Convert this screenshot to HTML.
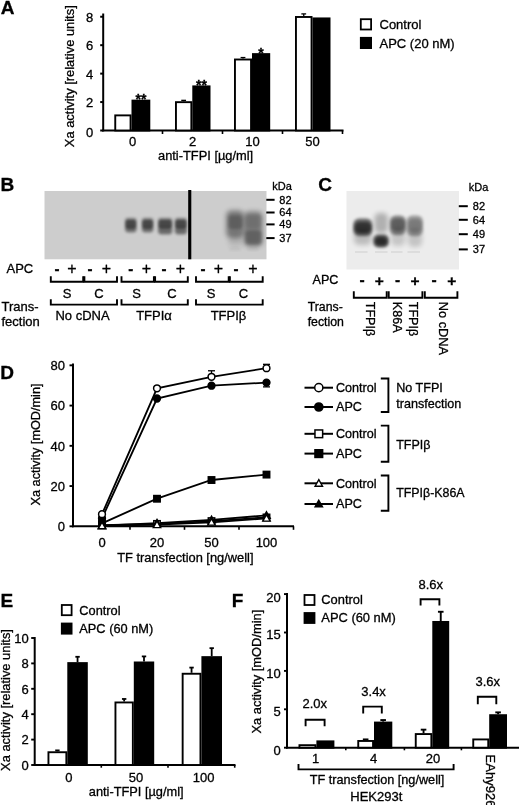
<!DOCTYPE html>
<html lang="en">
<head>
<meta charset="utf-8">
<title>Figure</title>
<style>
html,body{margin:0;padding:0;background:#fff;}
svg{display:block;font-family:"Liberation Sans",Arial,sans-serif;fill:#000;}
text{stroke:#000;stroke-width:0.3px;}
</style>
</head>
<body>
<svg width="520" height="805" viewBox="0 0 520 805">
<defs>
<filter id="b1" x="-50%" y="-50%" width="200%" height="200%"><feGaussianBlur stdDeviation="1.1"/></filter>
<filter id="b2" x="-50%" y="-50%" width="200%" height="200%"><feGaussianBlur stdDeviation="1.6"/></filter>
<filter id="b3" x="-50%" y="-50%" width="200%" height="200%"><feGaussianBlur stdDeviation="2.4"/></filter>
</defs>
<rect x="0" y="0" width="520" height="805" fill="#fff"/>
<!-- Panel A -->
<text x="0.7" y="14.4" font-size="19" text-anchor="start" font-weight="bold">A</text>
<line x1="103.2" y1="13.5" x2="103.2" y2="131.4" stroke="#000" stroke-width="2"/>
<line x1="102.2" y1="130.5" x2="343.5" y2="130.5" stroke="#000" stroke-width="2"/>
<line x1="100.2" y1="130.5" x2="103.2" y2="130.5" stroke="#000" stroke-width="2"/>
<text x="93.2" y="136.5" font-size="13" text-anchor="end" font-weight="normal">0</text>
<line x1="100.2" y1="102.06" x2="103.2" y2="102.06" stroke="#000" stroke-width="2"/>
<text x="93.2" y="107.26" font-size="13" text-anchor="end" font-weight="normal">2</text>
<line x1="100.2" y1="73.62" x2="103.2" y2="73.62" stroke="#000" stroke-width="2"/>
<text x="93.2" y="78.82000000000001" font-size="13" text-anchor="end" font-weight="normal">4</text>
<line x1="100.2" y1="45.17999999999999" x2="103.2" y2="45.17999999999999" stroke="#000" stroke-width="2"/>
<text x="93.2" y="50.379999999999995" font-size="13" text-anchor="end" font-weight="normal">6</text>
<line x1="100.2" y1="16.739999999999995" x2="103.2" y2="16.739999999999995" stroke="#000" stroke-width="2"/>
<text x="93.2" y="21.939999999999994" font-size="13" text-anchor="end" font-weight="normal">8</text>
<line x1="162.5" y1="130.5" x2="162.5" y2="134.0" stroke="#000" stroke-width="1.6"/>
<line x1="222.5" y1="130.5" x2="222.5" y2="134.0" stroke="#000" stroke-width="1.6"/>
<line x1="282.5" y1="130.5" x2="282.5" y2="134.0" stroke="#000" stroke-width="1.6"/>
<line x1="342.5" y1="130.5" x2="342.5" y2="134.0" stroke="#000" stroke-width="1.6"/>
<text x="73.6" y="76.2" font-size="12.9" text-anchor="middle" font-weight="normal" transform="rotate(-90 73.6 76.2)">Xa activity [relative units]</text>
<rect x="115.25" y="115.38" width="15.30" height="15.12" fill="#fff" stroke="#000" stroke-width="1.9"/>
<rect x="132.45" y="100.59" width="16.90" height="29.91" fill="#000" stroke="#000" stroke-width="1.9"/>
<text x="140.9" y="104.2426" font-size="14" text-anchor="middle" font-weight="bold">**</text>
<line x1="183.65" y1="101.2068" x2="183.65" y2="100.3536" stroke="#000" stroke-width="1.3"/>
<line x1="181.25" y1="100.3536" x2="186.05" y2="100.3536" stroke="#000" stroke-width="1.3"/>
<rect x="175.95" y="102.16" width="15.40" height="28.34" fill="#fff" stroke="#000" stroke-width="1.9"/>
<rect x="193.25" y="86.37" width="16.30" height="44.13" fill="#000" stroke="#000" stroke-width="1.9"/>
<text x="201.4" y="90.02259999999998" font-size="14" text-anchor="middle" font-weight="bold">**</text>
<line x1="243.0" y1="58.546800000000005" x2="243.0" y2="57.5514" stroke="#000" stroke-width="1.3"/>
<line x1="240.6" y1="57.5514" x2="245.4" y2="57.5514" stroke="#000" stroke-width="1.3"/>
<rect x="234.95" y="59.50" width="16.10" height="71.00" fill="#fff" stroke="#000" stroke-width="1.9"/>
<rect x="252.95" y="54.09" width="16.30" height="76.41" fill="#000" stroke="#000" stroke-width="1.9"/>
<text x="261.1" y="57.743199999999995" font-size="14" text-anchor="middle" font-weight="bold">*</text>
<line x1="303.75" y1="16.028999999999982" x2="303.75" y2="13.896" stroke="#000" stroke-width="1.3"/>
<line x1="301.35" y1="13.896" x2="306.15" y2="13.896" stroke="#000" stroke-width="1.3"/>
<rect x="295.95" y="16.98" width="15.60" height="113.52" fill="#fff" stroke="#000" stroke-width="1.9"/>
<rect x="313.45" y="18.40" width="16.10" height="112.10" fill="#000" stroke="#000" stroke-width="1.9"/>
<text x="132.5" y="146" font-size="13" text-anchor="middle" font-weight="normal">0</text>
<text x="192.5" y="146" font-size="13" text-anchor="middle" font-weight="normal">2</text>
<text x="252.5" y="146" font-size="13" text-anchor="middle" font-weight="normal">10</text>
<text x="312.5" y="146" font-size="13" text-anchor="middle" font-weight="normal">50</text>
<text x="205.6" y="159.5" font-size="12.85" text-anchor="middle" font-weight="normal">anti-TFPI [µg/ml]</text>
<rect x="360.8" y="19.2" width="10.3" height="10.3" fill="#fff" stroke="#000" stroke-width="1.8"/>
<rect x="360.8" y="37.8" width="10.3" height="10.3" fill="#000" stroke="#000" stroke-width="1.8"/>
<text x="379.5" y="28.8" font-size="13" text-anchor="start" font-weight="normal">Control</text>
<text x="379.5" y="47.6" font-size="13" text-anchor="start" font-weight="normal">APC (20 nM)</text>
<!-- Panel B -->
<text x="0.5" y="191.4" font-size="19" text-anchor="start" font-weight="bold">B</text>
<rect x="44.5" y="191" width="222" height="68.3" fill="#cdcdcd"/>
<rect x="188.2" y="190" width="3.1" height="69.3" fill="#000"/>
<rect x="125" y="218" width="11.6" height="14.0" rx="3" fill="#000" opacity="0.42" filter="url(#b2)"/>
<rect x="125.5" y="220" width="10.6" height="8.5" rx="3" fill="#000" opacity="0.38" filter="url(#b1)"/>
<rect x="126" y="226" width="9.6" height="7.0" rx="3" fill="#000" opacity="0.12" filter="url(#b2)"/>
<rect x="141.8" y="218" width="11.6" height="14.0" rx="3" fill="#000" opacity="0.42" filter="url(#b2)"/>
<rect x="142.3" y="220" width="10.6" height="8.5" rx="3" fill="#000" opacity="0.38" filter="url(#b1)"/>
<rect x="142.8" y="226" width="9.6" height="7.0" rx="3" fill="#000" opacity="0.12" filter="url(#b2)"/>
<rect x="158" y="218" width="14.3" height="16.0" rx="3" fill="#000" opacity="0.42" filter="url(#b2)"/>
<rect x="158.5" y="220" width="13.3" height="8.5" rx="3" fill="#000" opacity="0.38" filter="url(#b1)"/>
<rect x="159" y="226" width="12.3" height="9.0" rx="3" fill="#000" opacity="0.12" filter="url(#b2)"/>
<rect x="174.8" y="218" width="12.2" height="16.0" rx="3" fill="#000" opacity="0.42" filter="url(#b2)"/>
<rect x="175.3" y="220" width="11.2" height="8.5" rx="3" fill="#000" opacity="0.38" filter="url(#b1)"/>
<rect x="175.8" y="226" width="10.2" height="9.0" rx="3" fill="#000" opacity="0.12" filter="url(#b2)"/>
<rect x="226.3" y="210.5" width="17.5" height="27.5" rx="5" fill="#000" opacity="0.42" filter="url(#b3)"/>
<rect x="228" y="215.5" width="14.5" height="13.5" rx="4" fill="#000" opacity="0.2" filter="url(#b2)"/>
<rect x="228.5" y="236" width="14.0" height="10.0" rx="4" fill="#000" opacity="0.12" filter="url(#b3)"/>
<rect x="229" y="247.5" width="12.0" height="3.0" rx="2" fill="#000" opacity="0.06" filter="url(#b2)"/>
<rect x="244" y="211.5" width="18.5" height="35.0" rx="5" fill="#000" opacity="0.4" filter="url(#b3)"/>
<rect x="245" y="230.5" width="17.0" height="14.0" rx="4" fill="#000" opacity="0.2" filter="url(#b2)"/>
<rect x="245.5" y="215" width="16.0" height="13.0" rx="4" fill="#000" opacity="0.08" filter="url(#b2)"/>
<rect x="247" y="247.5" width="12.0" height="3.0" rx="2" fill="#000" opacity="0.05" filter="url(#b2)"/>
<text x="272.2" y="190" font-size="11" text-anchor="start" font-weight="normal">kDa</text>
<line x1="266.3" y1="199.8" x2="274.6" y2="199.8" stroke="#000" stroke-width="2"/>
<text x="279.3" y="203.70000000000002" font-size="11" text-anchor="start" font-weight="normal">82</text>
<line x1="266.3" y1="212.5" x2="274.6" y2="212.5" stroke="#000" stroke-width="2"/>
<text x="279.3" y="216.4" font-size="11" text-anchor="start" font-weight="normal">64</text>
<line x1="266.3" y1="224.4" x2="274.6" y2="224.4" stroke="#000" stroke-width="2"/>
<text x="279.3" y="228.3" font-size="11" text-anchor="start" font-weight="normal">49</text>
<line x1="266.3" y1="238.1" x2="274.6" y2="238.1" stroke="#000" stroke-width="2"/>
<text x="279.3" y="242.0" font-size="11" text-anchor="start" font-weight="normal">37</text>
<text x="6.5" y="273" font-size="13" text-anchor="start" font-weight="normal">APC</text>
<text x="57" y="274.3" font-size="15" text-anchor="middle" font-weight="bold">-</text>
<text x="72" y="273.9" font-size="16" text-anchor="middle" font-weight="normal">+</text>
<text x="90" y="274.3" font-size="15" text-anchor="middle" font-weight="bold">-</text>
<text x="106.5" y="273.9" font-size="16" text-anchor="middle" font-weight="normal">+</text>
<text x="130.8" y="274.3" font-size="15" text-anchor="middle" font-weight="bold">-</text>
<text x="146.5" y="273.9" font-size="16" text-anchor="middle" font-weight="normal">+</text>
<text x="164" y="274.3" font-size="15" text-anchor="middle" font-weight="bold">-</text>
<text x="180.5" y="273.9" font-size="16" text-anchor="middle" font-weight="normal">+</text>
<text x="203" y="274.3" font-size="15" text-anchor="middle" font-weight="bold">-</text>
<text x="218.5" y="273.9" font-size="16" text-anchor="middle" font-weight="normal">+</text>
<text x="236" y="274.3" font-size="15" text-anchor="middle" font-weight="bold">-</text>
<text x="253" y="273.9" font-size="16" text-anchor="middle" font-weight="normal">+</text>
<path d="M50.8 276.3V281.8H83.2V276.3" fill="none" stroke="#000" stroke-width="1.9"/>
<path d="M84.39999999999999 276.3V281.8H117V276.3" fill="none" stroke="#000" stroke-width="1.9"/>
<path d="M50.8 299.3V304.6H117V299.3" fill="none" stroke="#000" stroke-width="1.9"/>
<path d="M121.5 276.3V281.8H153.9V276.3" fill="none" stroke="#000" stroke-width="1.9"/>
<path d="M155.1 276.3V281.8H187.8V276.3" fill="none" stroke="#000" stroke-width="1.9"/>
<path d="M121.5 299.3V304.6H187.8V299.3" fill="none" stroke="#000" stroke-width="1.9"/>
<path d="M196 276.3V281.8H228.70000000000002V276.3" fill="none" stroke="#000" stroke-width="1.9"/>
<path d="M229.9 276.3V281.8H262.7V276.3" fill="none" stroke="#000" stroke-width="1.9"/>
<path d="M196 299.3V304.6H262.7V299.3" fill="none" stroke="#000" stroke-width="1.9"/>
<text x="67" y="297.7" font-size="13" text-anchor="middle" font-weight="normal">S</text>
<text x="99" y="297.7" font-size="13" text-anchor="middle" font-weight="normal">C</text>
<text x="136.5" y="297.7" font-size="13" text-anchor="middle" font-weight="normal">S</text>
<text x="172" y="297.7" font-size="13" text-anchor="middle" font-weight="normal">C</text>
<text x="211.2" y="297.7" font-size="13" text-anchor="middle" font-weight="normal">S</text>
<text x="243.4" y="297.7" font-size="13" text-anchor="middle" font-weight="normal">C</text>
<text x="1.5" y="311.2" font-size="13" text-anchor="start" font-weight="normal">Trans-</text>
<text x="1.5" y="326.3" font-size="13" text-anchor="start" font-weight="normal">fection</text>
<text x="82.5" y="319.8" font-size="13" text-anchor="middle" font-weight="normal">No cDNA</text>
<text x="154" y="319.8" font-size="13" text-anchor="middle" font-weight="normal">TFPIα</text>
<text x="228.5" y="319.8" font-size="13" text-anchor="middle" font-weight="normal">TFPIβ</text>
<!-- Panel C -->
<text x="318.3" y="191.4" font-size="19" text-anchor="start" font-weight="bold">C</text>
<rect x="346.5" y="191" width="112.5" height="78.5" fill="#ececec"/>
<rect x="353.3" y="218.5" width="19.0" height="17.5" rx="6" fill="#000" opacity="0.55" filter="url(#b2)"/>
<rect x="354.5" y="222" width="16.7" height="11.0" rx="5" fill="#000" opacity="0.5" filter="url(#b2)"/>
<rect x="354" y="228" width="17.5" height="17.0" rx="5" fill="#000" opacity="0.2" filter="url(#b3)"/>
<rect x="373.3" y="234.5" width="15.5" height="13.0" rx="5" fill="#000" opacity="0.6" filter="url(#b2)"/>
<rect x="375" y="237" width="12.2" height="8.5" rx="5" fill="#000" opacity="0.55" filter="url(#b2)"/>
<rect x="374.5" y="213" width="13.5" height="20.0" rx="5" fill="#000" opacity="0.25" filter="url(#b3)"/>
<rect x="389.8" y="215.5" width="16.2" height="19.5" rx="6" fill="#000" opacity="0.42" filter="url(#b2)"/>
<rect x="391" y="218.5" width="14.0" height="12.5" rx="5" fill="#000" opacity="0.3" filter="url(#b2)"/>
<rect x="391" y="228" width="14.0" height="18.0" rx="5" fill="#000" opacity="0.16" filter="url(#b3)"/>
<rect x="406.5" y="215.5" width="16.5" height="20.5" rx="6" fill="#000" opacity="0.34" filter="url(#b2)"/>
<rect x="408" y="219" width="14.0" height="13.0" rx="5" fill="#000" opacity="0.2" filter="url(#b2)"/>
<rect x="408" y="229" width="14.0" height="18.0" rx="5" fill="#000" opacity="0.17" filter="url(#b3)"/>
<rect x="355" y="251.5" width="12.5" height="1" fill="#000" opacity="0.13"/>
<rect x="375" y="251.5" width="12.5" height="1" fill="#000" opacity="0.13"/>
<rect x="391" y="251.5" width="11.5" height="1" fill="#000" opacity="0.13"/>
<rect x="407.5" y="251.5" width="12.5" height="1" fill="#000" opacity="0.13"/>
<text x="468.8" y="190.6" font-size="11" text-anchor="start" font-weight="normal">kDa</text>
<line x1="458.8" y1="206.2" x2="467.8" y2="206.2" stroke="#000" stroke-width="2"/>
<text x="472.8" y="210.0" font-size="11" text-anchor="start" font-weight="normal">82</text>
<line x1="458.8" y1="219.8" x2="467.8" y2="219.8" stroke="#000" stroke-width="2"/>
<text x="472.8" y="223.60000000000002" font-size="11" text-anchor="start" font-weight="normal">64</text>
<line x1="458.8" y1="234.2" x2="467.8" y2="234.2" stroke="#000" stroke-width="2"/>
<text x="472.8" y="238.0" font-size="11" text-anchor="start" font-weight="normal">49</text>
<line x1="458.8" y1="249.4" x2="467.8" y2="249.4" stroke="#000" stroke-width="2"/>
<text x="472.8" y="253.20000000000002" font-size="11" text-anchor="start" font-weight="normal">37</text>
<text x="312.5" y="284" font-size="12.6" text-anchor="start" font-weight="normal">APC</text>
<text x="362.2" y="285" font-size="15.5" text-anchor="middle" font-weight="bold">-</text>
<text x="379.4" y="285.8" font-size="15.5" text-anchor="middle" font-weight="bold">+</text>
<text x="397.5" y="285" font-size="15.5" text-anchor="middle" font-weight="bold">-</text>
<text x="415" y="285.8" font-size="15.5" text-anchor="middle" font-weight="bold">+</text>
<text x="434" y="285" font-size="15.5" text-anchor="middle" font-weight="bold">-</text>
<text x="451.8" y="285.8" font-size="15.5" text-anchor="middle" font-weight="bold">+</text>
<path d="M353.8 291.3V297.8H386.7V291.3" fill="none" stroke="#000" stroke-width="1.9"/>
<path d="M388.7 291.3V297.8H422.4V291.3" fill="none" stroke="#000" stroke-width="1.9"/>
<path d="M424.8 291.3V297.8H457.4V291.3" fill="none" stroke="#000" stroke-width="1.9"/>
<text x="307.7" y="311" font-size="12.3" text-anchor="start" font-weight="normal">Trans-</text>
<text x="307.7" y="325.5" font-size="12.3" text-anchor="start" font-weight="normal">fection</text>
<text x="365.8" y="301.8" font-size="12.5" text-anchor="start" font-weight="normal" transform="rotate(90 365.8 301.8)">TFPIβ</text>
<text x="392.6" y="301.8" font-size="12.6" text-anchor="start" font-weight="normal" transform="rotate(90 392.6 301.8)">K86A</text>
<text x="408.8" y="301.8" font-size="12.5" text-anchor="start" font-weight="normal" transform="rotate(90 408.8 301.8)">TFPIβ</text>
<text x="438.5" y="301.8" font-size="12.8" text-anchor="start" font-weight="normal" transform="rotate(90 438.5 301.8)">No cDNA</text>
<!-- Panel D -->
<text x="0.3" y="379.4" font-size="19" text-anchor="start" font-weight="bold">D</text>
<line x1="73" y1="363.5" x2="73" y2="527.1999999999999" stroke="#000" stroke-width="2"/>
<line x1="72" y1="526.3" x2="294" y2="526.3" stroke="#000" stroke-width="2"/>
<line x1="69.5" y1="526.3" x2="73" y2="526.3" stroke="#000" stroke-width="1.9"/>
<text x="65" y="531.0999999999999" font-size="13" text-anchor="end" font-weight="normal">0</text>
<line x1="69.5" y1="486.05999999999995" x2="73" y2="486.05999999999995" stroke="#000" stroke-width="1.9"/>
<text x="65" y="490.85999999999996" font-size="13" text-anchor="end" font-weight="normal">20</text>
<line x1="69.5" y1="445.81999999999994" x2="73" y2="445.81999999999994" stroke="#000" stroke-width="1.9"/>
<text x="65" y="450.61999999999995" font-size="13" text-anchor="end" font-weight="normal">40</text>
<line x1="69.5" y1="405.5799999999999" x2="73" y2="405.5799999999999" stroke="#000" stroke-width="1.9"/>
<text x="65" y="410.37999999999994" font-size="13" text-anchor="end" font-weight="normal">60</text>
<line x1="69.5" y1="365.3399999999999" x2="73" y2="365.3399999999999" stroke="#000" stroke-width="1.9"/>
<text x="65" y="370.13999999999993" font-size="13" text-anchor="end" font-weight="normal">80</text>
<line x1="130" y1="526.3" x2="130" y2="529.8" stroke="#000" stroke-width="1.6"/>
<line x1="184.5" y1="526.3" x2="184.5" y2="529.8" stroke="#000" stroke-width="1.6"/>
<line x1="239" y1="526.3" x2="239" y2="529.8" stroke="#000" stroke-width="1.6"/>
<line x1="293.5" y1="526.3" x2="293.5" y2="529.8" stroke="#000" stroke-width="1.6"/>
<text x="39.8" y="444.5" font-size="12.7" text-anchor="middle" font-weight="normal" transform="rotate(-90 39.8 444.5)">Xa activity [mOD/min]</text>
<text x="102" y="546.6" font-size="13" text-anchor="middle" font-weight="normal">0</text>
<text x="157" y="546.6" font-size="13" text-anchor="middle" font-weight="normal">20</text>
<text x="211.5" y="546.6" font-size="13" text-anchor="middle" font-weight="normal">50</text>
<text x="266.5" y="546.6" font-size="13" text-anchor="middle" font-weight="normal">100</text>
<text x="185.3" y="561.9" font-size="12.85" text-anchor="middle" font-weight="normal">TF transfection [ng/well]</text>
<line x1="211.5" y1="376.80839999999995" x2="211.5" y2="370.77239999999995" stroke="#000" stroke-width="1.3"/>
<line x1="208.0" y1="370.77239999999995" x2="215.0" y2="370.77239999999995" stroke="#000" stroke-width="1.3"/>
<line x1="266.5" y1="368.1568" x2="266.5" y2="364.33399999999995" stroke="#000" stroke-width="1.3"/>
<line x1="263.0" y1="364.33399999999995" x2="270.0" y2="364.33399999999995" stroke="#000" stroke-width="1.3"/>
<line x1="266.5" y1="382.6432" x2="266.5" y2="386.86839999999995" stroke="#000" stroke-width="1.3"/>
<line x1="263.0" y1="386.86839999999995" x2="270.0" y2="386.86839999999995" stroke="#000" stroke-width="1.3"/>
<polyline points="102,525.1 157,523.9 211.5,521.1 266.5,517.4" fill="none" stroke="#000" stroke-width="1.85"/>
<polyline points="102,523.3 157,498.7 211.5,480.0 266.5,474.6" fill="none" stroke="#000" stroke-width="1.85"/>
<polyline points="102,525.7 157,523.1 211.5,519.9 266.5,515.4" fill="none" stroke="#000" stroke-width="1.85"/>
<polyline points="102,525.9 157,524.7 211.5,522.3 266.5,518.3" fill="none" stroke="#000" stroke-width="1.85"/>
<polyline points="102,518.3 157,398.5 211.5,385.7 266.5,382.6" fill="none" stroke="#000" stroke-width="1.85"/>
<polyline points="102,514.2 157,388.3 211.5,376.8 266.5,368.2" fill="none" stroke="#000" stroke-width="1.85"/>
<rect x="98.80" y="521.89" width="6.40" height="6.40" fill="#fff" stroke="#000" stroke-width="1.5"/>
<rect x="153.80" y="520.69" width="6.40" height="6.40" fill="#fff" stroke="#000" stroke-width="1.5"/>
<rect x="208.30" y="517.87" width="6.40" height="6.40" fill="#fff" stroke="#000" stroke-width="1.5"/>
<rect x="263.30" y="514.25" width="6.40" height="6.40" fill="#fff" stroke="#000" stroke-width="1.5"/>
<rect x="98.80" y="520.08" width="6.40" height="6.40" fill="#000" stroke="#000" stroke-width="1.5"/>
<rect x="153.80" y="495.54" width="6.40" height="6.40" fill="#000" stroke="#000" stroke-width="1.5"/>
<rect x="208.30" y="476.82" width="6.40" height="6.40" fill="#000" stroke="#000" stroke-width="1.5"/>
<rect x="263.30" y="471.39" width="6.40" height="6.40" fill="#000" stroke="#000" stroke-width="1.5"/>
<path d="M102 522.00L105.70 528.58H98.30Z" fill="#000" stroke="#000" stroke-width="1.4"/>
<path d="M157 519.38L160.70 525.97H153.30Z" fill="#000" stroke="#000" stroke-width="1.4"/>
<path d="M211.5 516.16L215.20 522.75H207.80Z" fill="#000" stroke="#000" stroke-width="1.4"/>
<path d="M266.5 511.74L270.20 518.32H262.80Z" fill="#000" stroke="#000" stroke-width="1.4"/>
<path d="M102 522.20L105.70 528.78H98.30Z" fill="#fff" stroke="#000" stroke-width="1.4"/>
<path d="M157 520.99L160.70 527.58H153.30Z" fill="#fff" stroke="#000" stroke-width="1.4"/>
<path d="M211.5 518.58L215.20 525.16H207.80Z" fill="#fff" stroke="#000" stroke-width="1.4"/>
<path d="M266.5 514.55L270.20 521.14H262.80Z" fill="#fff" stroke="#000" stroke-width="1.4"/>
<circle cx="102" cy="518.3" r="3.40" fill="#000" stroke="#000" stroke-width="1.5"/>
<circle cx="157" cy="398.5" r="3.40" fill="#000" stroke="#000" stroke-width="1.5"/>
<circle cx="211.5" cy="385.7" r="3.40" fill="#000" stroke="#000" stroke-width="1.5"/>
<circle cx="266.5" cy="382.6" r="3.40" fill="#000" stroke="#000" stroke-width="1.5"/>
<circle cx="102" cy="514.2" r="3.40" fill="#fff" stroke="#000" stroke-width="1.5"/>
<circle cx="157" cy="388.3" r="3.40" fill="#fff" stroke="#000" stroke-width="1.5"/>
<circle cx="211.5" cy="376.8" r="3.40" fill="#fff" stroke="#000" stroke-width="1.5"/>
<circle cx="266.5" cy="368.2" r="3.40" fill="#fff" stroke="#000" stroke-width="1.5"/>
<line x1="304.5" y1="387.7" x2="333" y2="387.7" stroke="#000" stroke-width="2"/>
<circle cx="318.8" cy="387.7" r="4.08" fill="#fff" stroke="#000" stroke-width="1.5"/>
<text x="336" y="392.0" font-size="12.6" text-anchor="start" font-weight="normal">Control</text>
<line x1="304.5" y1="407" x2="333" y2="407" stroke="#000" stroke-width="2"/>
<circle cx="318.8" cy="407.0" r="4.08" fill="#000" stroke="#000" stroke-width="1.5"/>
<text x="336" y="411.3" font-size="12.6" text-anchor="start" font-weight="normal">APC</text>
<line x1="304.5" y1="433.8" x2="333" y2="433.8" stroke="#000" stroke-width="2"/>
<rect x="314.96" y="429.96" width="7.68" height="7.68" fill="#fff" stroke="#000" stroke-width="1.5"/>
<text x="336" y="438.1" font-size="12.6" text-anchor="start" font-weight="normal">Control</text>
<line x1="304.5" y1="453.6" x2="333" y2="453.6" stroke="#000" stroke-width="2"/>
<rect x="314.96" y="449.76" width="7.68" height="7.68" fill="#000" stroke="#000" stroke-width="1.5"/>
<text x="336" y="457.90000000000003" font-size="12.6" text-anchor="start" font-weight="normal">APC</text>
<line x1="304.5" y1="483.3" x2="333" y2="483.3" stroke="#000" stroke-width="2"/>
<path d="M318.8 479.60L322.50 486.19H315.10Z" fill="#fff" stroke="#000" stroke-width="1.4"/>
<text x="336" y="487.6" font-size="12.6" text-anchor="start" font-weight="normal">Control</text>
<line x1="304.5" y1="504" x2="333" y2="504" stroke="#000" stroke-width="2"/>
<path d="M318.8 500.30L322.50 506.89H315.10Z" fill="#000" stroke="#000" stroke-width="1.4"/>
<text x="336" y="508.3" font-size="12.6" text-anchor="start" font-weight="normal">APC</text>
<path d="M380.8 378.5H388.4V412H380.8" fill="none" stroke="#000" stroke-width="1.9"/>
<path d="M380.8 425.6H388.4V461.8H380.8" fill="none" stroke="#000" stroke-width="1.9"/>
<path d="M380.8 475.5H388.4V510.8H380.8" fill="none" stroke="#000" stroke-width="1.9"/>
<text x="396.2" y="391.5" font-size="12.6" text-anchor="start" font-weight="normal">No TFPI</text>
<text x="396.2" y="408" font-size="12.6" text-anchor="start" font-weight="normal">transfection</text>
<text x="396.2" y="449" font-size="12.5" text-anchor="start" font-weight="normal">TFPIβ</text>
<text x="396.2" y="496.5" font-size="12.4" text-anchor="start" font-weight="normal">TFPIβ-K86A</text>
<!-- Panel E -->
<text x="0.5" y="606.9" font-size="19" text-anchor="start" font-weight="bold">E</text>
<line x1="34.7" y1="637" x2="34.7" y2="765.9" stroke="#000" stroke-width="2"/>
<line x1="33.7" y1="765" x2="235.5" y2="765" stroke="#000" stroke-width="2"/>
<line x1="31.200000000000003" y1="765.0" x2="34.7" y2="765.0" stroke="#000" stroke-width="1.9"/>
<text x="28.700000000000003" y="769.8" font-size="13" text-anchor="end" font-weight="normal">0</text>
<line x1="31.200000000000003" y1="739.6" x2="34.7" y2="739.6" stroke="#000" stroke-width="1.9"/>
<text x="28.700000000000003" y="744.4" font-size="13" text-anchor="end" font-weight="normal">2</text>
<line x1="31.200000000000003" y1="714.2" x2="34.7" y2="714.2" stroke="#000" stroke-width="1.9"/>
<text x="28.700000000000003" y="719.0" font-size="13" text-anchor="end" font-weight="normal">4</text>
<line x1="31.200000000000003" y1="688.8" x2="34.7" y2="688.8" stroke="#000" stroke-width="1.9"/>
<text x="28.700000000000003" y="693.5999999999999" font-size="13" text-anchor="end" font-weight="normal">6</text>
<line x1="31.200000000000003" y1="663.4" x2="34.7" y2="663.4" stroke="#000" stroke-width="1.9"/>
<text x="28.700000000000003" y="668.1999999999999" font-size="13" text-anchor="end" font-weight="normal">8</text>
<line x1="31.200000000000003" y1="638.0" x2="34.7" y2="638.0" stroke="#000" stroke-width="1.9"/>
<text x="28.700000000000003" y="642.8" font-size="13" text-anchor="end" font-weight="normal">10</text>
<line x1="101.3" y1="765" x2="101.3" y2="767.7" stroke="#000" stroke-width="1.6"/>
<line x1="168" y1="765" x2="168" y2="767.7" stroke="#000" stroke-width="1.6"/>
<line x1="234.7" y1="765" x2="234.7" y2="767.7" stroke="#000" stroke-width="1.6"/>
<text x="9.7" y="700" font-size="12.9" text-anchor="middle" font-weight="normal" transform="rotate(-90 9.7 700)">Xa activity [relative units]</text>
<line x1="57.4" y1="751.284" x2="57.4" y2="750.395" stroke="#000" stroke-width="1.8"/>
<line x1="55.199999999999996" y1="750.395" x2="59.6" y2="750.395" stroke="#000" stroke-width="1.8"/>
<rect x="48.45" y="752.23" width="17.90" height="12.77" fill="#fff" stroke="#000" stroke-width="1.9"/>
<line x1="77.55" y1="662.13" x2="77.55" y2="656.796" stroke="#000" stroke-width="1.8"/>
<line x1="75.35" y1="656.796" x2="79.75" y2="656.796" stroke="#000" stroke-width="1.8"/>
<rect x="68.25" y="663.08" width="18.60" height="101.92" fill="#000" stroke="#000" stroke-width="1.9"/>
<line x1="124.15" y1="701.5" x2="124.15" y2="698.96" stroke="#000" stroke-width="1.8"/>
<line x1="121.95" y1="698.96" x2="126.35000000000001" y2="698.96" stroke="#000" stroke-width="1.8"/>
<rect x="115.45" y="702.45" width="17.40" height="62.55" fill="#fff" stroke="#000" stroke-width="1.9"/>
<line x1="144.0" y1="661.495" x2="144.0" y2="656.415" stroke="#000" stroke-width="1.8"/>
<line x1="141.8" y1="656.415" x2="146.2" y2="656.415" stroke="#000" stroke-width="1.8"/>
<rect x="134.75" y="662.45" width="18.50" height="102.55" fill="#000" stroke="#000" stroke-width="1.9"/>
<line x1="191.55" y1="672.798" x2="191.55" y2="667.591" stroke="#000" stroke-width="1.8"/>
<line x1="189.35000000000002" y1="667.591" x2="193.75" y2="667.591" stroke="#000" stroke-width="1.8"/>
<rect x="182.65" y="673.75" width="17.80" height="91.25" fill="#fff" stroke="#000" stroke-width="1.9"/>
<line x1="211.7" y1="656.1610000000001" x2="211.7" y2="648.16" stroke="#000" stroke-width="1.8"/>
<line x1="209.5" y1="648.16" x2="213.89999999999998" y2="648.16" stroke="#000" stroke-width="1.8"/>
<rect x="202.35" y="657.11" width="18.70" height="107.89" fill="#000" stroke="#000" stroke-width="1.9"/>
<text x="68.8" y="782.2" font-size="13" text-anchor="middle" font-weight="normal">0</text>
<text x="136" y="782.2" font-size="13" text-anchor="middle" font-weight="normal">50</text>
<text x="203.6" y="782.2" font-size="13" text-anchor="middle" font-weight="normal">100</text>
<text x="136.2" y="795.9" font-size="12.8" text-anchor="middle" font-weight="normal">anti-TFPI [µg/ml]</text>
<rect x="61.8" y="605" width="9.8" height="10.2" fill="#fff" stroke="#000" stroke-width="1.8"/>
<rect x="61.8" y="623.5" width="9.8" height="10.2" fill="#000" stroke="#000" stroke-width="1.8"/>
<text x="79.3" y="614.8" font-size="12.8" text-anchor="start" font-weight="normal">Control</text>
<text x="79.3" y="632.7" font-size="12.8" text-anchor="start" font-weight="normal">APC (60 nM)</text>
<!-- Panel F -->
<text x="231.8" y="607" font-size="19" text-anchor="start" font-weight="bold">F</text>
<line x1="287" y1="593" x2="287" y2="748.6" stroke="#000" stroke-width="2"/>
<line x1="286" y1="747.7" x2="519" y2="747.7" stroke="#000" stroke-width="2"/>
<line x1="284" y1="747.7" x2="287" y2="747.7" stroke="#000" stroke-width="1.9"/>
<text x="280.7" y="754.5" font-size="13" text-anchor="end" font-weight="normal">0</text>
<line x1="284" y1="709.3000000000001" x2="287" y2="709.3000000000001" stroke="#000" stroke-width="1.9"/>
<text x="280.7" y="716.1" font-size="13" text-anchor="end" font-weight="normal">5</text>
<line x1="284" y1="670.9000000000001" x2="287" y2="670.9000000000001" stroke="#000" stroke-width="1.9"/>
<text x="280.7" y="677.7" font-size="13" text-anchor="end" font-weight="normal">10</text>
<line x1="284" y1="632.5" x2="287" y2="632.5" stroke="#000" stroke-width="1.9"/>
<text x="280.7" y="639.3" font-size="13" text-anchor="end" font-weight="normal">15</text>
<line x1="284" y1="594.1" x2="287" y2="594.1" stroke="#000" stroke-width="1.9"/>
<text x="280.7" y="602.3000000000001" font-size="13" text-anchor="end" font-weight="normal">20</text>
<line x1="345.8" y1="747.7" x2="345.8" y2="750.3000000000001" stroke="#000" stroke-width="1.6"/>
<line x1="404.4" y1="747.7" x2="404.4" y2="750.3000000000001" stroke="#000" stroke-width="1.6"/>
<line x1="461.4" y1="747.7" x2="461.4" y2="750.3000000000001" stroke="#000" stroke-width="1.6"/>
<text x="261.2" y="671.6" font-size="12.9" text-anchor="middle" font-weight="normal" transform="rotate(-90 261.2 671.6)">Xa activity [mOD/min]</text>
<rect x="299.45" y="745.19" width="16.00" height="2.51" fill="#fff" stroke="#000" stroke-width="1.9"/>
<rect x="317.35" y="741.35" width="16.10" height="6.35" fill="#000" stroke="#000" stroke-width="1.9"/>
<line x1="365.65" y1="740.0200000000001" x2="365.65" y2="739.4056" stroke="#000" stroke-width="1.9"/>
<line x1="362.84999999999997" y1="739.4056" x2="368.45" y2="739.4056" stroke="#000" stroke-width="1.9"/>
<rect x="358.25" y="740.97" width="14.80" height="6.73" fill="#fff" stroke="#000" stroke-width="1.9"/>
<line x1="383.15" y1="721.5880000000001" x2="383.15" y2="720.052" stroke="#000" stroke-width="1.9"/>
<line x1="380.34999999999997" y1="720.052" x2="385.95" y2="720.052" stroke="#000" stroke-width="1.9"/>
<rect x="374.95" y="722.54" width="16.40" height="25.16" fill="#000" stroke="#000" stroke-width="1.9"/>
<line x1="423.55" y1="733.1080000000001" x2="423.55" y2="729.652" stroke="#000" stroke-width="1.9"/>
<line x1="420.75" y1="729.652" x2="426.35" y2="729.652" stroke="#000" stroke-width="1.9"/>
<rect x="415.75" y="734.06" width="15.60" height="13.64" fill="#fff" stroke="#000" stroke-width="1.9"/>
<line x1="440.75" y1="620.98" x2="440.75" y2="611.7640000000001" stroke="#000" stroke-width="1.9"/>
<line x1="437.95" y1="611.7640000000001" x2="443.55" y2="611.7640000000001" stroke="#000" stroke-width="1.9"/>
<rect x="433.25" y="621.93" width="15.00" height="125.77" fill="#000" stroke="#000" stroke-width="1.9"/>
<rect x="473.25" y="739.43" width="15.00" height="8.27" fill="#fff" stroke="#000" stroke-width="1.9"/>
<line x1="498.1" y1="714.2152000000001" x2="498.1" y2="712.3720000000001" stroke="#000" stroke-width="1.9"/>
<line x1="495.3" y1="712.3720000000001" x2="500.90000000000003" y2="712.3720000000001" stroke="#000" stroke-width="1.9"/>
<rect x="490.15" y="715.17" width="15.90" height="32.53" fill="#000" stroke="#000" stroke-width="1.9"/>
<path d="M305.6 726.2V719.7H324.6V726.2" fill="none" stroke="#000" stroke-width="1.9"/>
<text x="314.8" y="708.2" font-size="13" text-anchor="middle" font-weight="normal">2.0x</text>
<path d="M363.2 713.6V706.6H381.8V713.6" fill="none" stroke="#000" stroke-width="1.9"/>
<text x="373.6" y="695.9" font-size="13" text-anchor="middle" font-weight="normal">3.4x</text>
<path d="M420.6 605.5V599.2H439.4V605.5" fill="none" stroke="#000" stroke-width="1.9"/>
<text x="430.8" y="588.5" font-size="13" text-anchor="middle" font-weight="normal">8.6x</text>
<path d="M477.8 704.3V696.8H496.3V704.3" fill="none" stroke="#000" stroke-width="1.9"/>
<text x="487.7" y="686.3" font-size="13" text-anchor="middle" font-weight="normal">3.6x</text>
<text x="315.5" y="762.5" font-size="13" text-anchor="middle" font-weight="normal">1</text>
<text x="373.6" y="762.5" font-size="13" text-anchor="middle" font-weight="normal">4</text>
<text x="433" y="762.5" font-size="13" text-anchor="middle" font-weight="normal">20</text>
<path d="M298.5 763.9V769.4H453.6V763.9" fill="none" stroke="#000" stroke-width="1.9"/>
<text x="377" y="784" font-size="12.7" text-anchor="middle" font-weight="normal">TF transfection [ng/well]</text>
<text x="376.3" y="800.5" font-size="13" text-anchor="middle" font-weight="normal">HEK293t</text>
<text x="485.8" y="754.6" font-size="13" text-anchor="start" font-weight="normal" transform="rotate(90 485.8 754.6)">EAhy926</text>
<rect x="304.5" y="595" width="10" height="10" fill="#fff" stroke="#000" stroke-width="1.8"/>
<rect x="304.5" y="613" width="10" height="10" fill="#000" stroke="#000" stroke-width="1.8"/>
<text x="321.3" y="604.3" font-size="12.9" text-anchor="start" font-weight="normal">Control</text>
<text x="321.3" y="622.3" font-size="12.9" text-anchor="start" font-weight="normal">APC (60 nM)</text>
</svg>
</body>
</html>
